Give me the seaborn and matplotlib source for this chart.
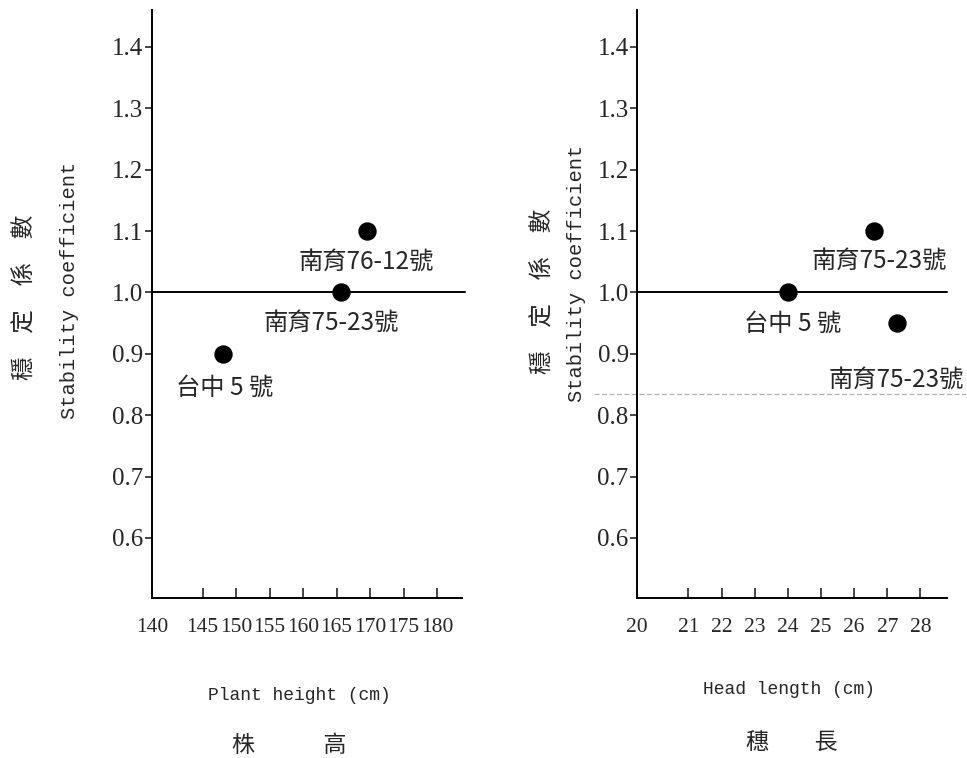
import numpy as np
import matplotlib.pyplot as plt
import seaborn as sns

# left panel: plant height
height_names = ['台中 5 號', '南育75-23號', '南育76-12號']
height_cm = [148.0, 165.6, 169.5]
height_sc = [0.90, 1.00, 1.10]
height_ticks = [137.4, 145, 150, 155, 160, 165, 170, 175, 180]
height_ticklabels = ['140', '145', '150', '155', '160', '165', '170', '175', '180']

# right panel: head length
head_names = ['南育75-23號', '台中 5 號', '南育75-23號']
head_cm = [26.6, 24.0, 27.3]
head_sc = [1.10, 1.00, 0.95]
head_ticks = [19.45, 21, 22, 23, 24, 25, 26, 27, 28]
head_ticklabels = ['20', '21', '22', '23', '24', '25', '26', '27', '28']

y_ticks = [0.6, 0.7, 0.8, 0.9, 1.0, 1.1, 1.2, 1.3, 1.4]
ref_line = 1.0
scan_line = 0.835

sns.set_style('ticks')
plt.rcParams['font.family'] = ['Liberation Serif', 'DejaVu Sans']
cjk = ['Noto Sans CJK TC', 'DejaVu Sans']
mono = ['Liberation Mono', 'DejaVu Sans Mono']

fig = plt.figure(figsize=(9.67, 7.58), dpi=100)
ax1 = fig.add_axes([0.157, 0.211, 0.3206, 0.7757])
ax2 = fig.add_axes([0.6587, 0.211, 0.3206, 0.7757])


def setup(ax, ticks, ticklabels, xlim):
    ax.set_xlim(*xlim)
    ax.set_ylim(0.502, 1.46)
    ax.set_xticks(ticks)
    ax.set_xticklabels(ticklabels, fontsize=15.5)
    ax.set_yticks(y_ticks)
    ax.set_yticklabels([f'{v:.1f}' for v in y_ticks], fontsize=18)
    ax.tick_params(axis='x', direction='in', length=7, width=1.2, pad=14)
    ax.tick_params(axis='y', direction='out', length=5, width=1.2, pad=1)
    sns.despine(ax=ax)
    for s in ['left', 'bottom']:
        ax.spines[s].set_linewidth(1.4)
        ax.spines[s].set_color('black')


setup(ax1, height_ticks, height_ticklabels, (137.4, 183.7))
setup(ax2, head_ticks, head_ticklabels, (19.45, 28.8))

sns.scatterplot(x=height_cm, y=height_sc, ax=ax1, s=150, color='black',
                edgecolor='black', zorder=3, clip_on=False)
sns.scatterplot(x=head_cm, y=head_sc, ax=ax2, s=150, color='black',
                edgecolor='black', zorder=3, clip_on=False)

ax1.axhline(ref_line, xmin=0, xmax=1.01, color='black', lw=1.4, clip_on=False)
ax2.axhline(ref_line, xmin=0, xmax=1.0, color='black', lw=1.4, clip_on=False)
ax2.axhline(scan_line, xmin=-0.14, xmax=1.06, color='#b0b0b0', lw=0.9,
            ls=(0, (4, 2)), clip_on=False)

offs1 = [(1.5, -24.5), (-7, -21.6), (-0.7, -22.3)]
for name, x, y, o in zip(height_names, height_cm, height_sc, offs1):
    ax1.annotate(name, (x, y), xytext=o, textcoords='offset points',
                 ha='center', va='center', fontsize=17.5, family=cjk)

offs2 = [(3.6, -21.6), (3.6, -22.3), (-0.7, -41)]
for name, x, y, o in zip(head_names, head_cm, head_sc, offs2):
    ax2.annotate(name, (x, y), xytext=o, textcoords='offset points',
                 ha='center', va='center', fontsize=17.5, family=cjk,
                 annotation_clip=False)

# axis titles
ax1.text(-0.265, 0.524, 'Stability coefficient', transform=ax1.transAxes,
         rotation=90, ha='center', va='center', fontsize=14.7, family=mono)
ax1.text(-0.41, 0.512, '穩\u3000定\u3000係\u3000數', transform=ax1.transAxes,
         rotation=90, ha='center', va='center', fontsize=17, family=cjk)
ax1.text(0.477, -0.165, 'Plant height (cm)', transform=ax1.transAxes,
         ha='center', va='center', fontsize=13, family=mono)
ax1.text(0.442, -0.25, '株\u3000\u3000\u3000高', transform=ax1.transAxes,
         ha='center', va='center', fontsize=16.5, family=cjk)

ax2.text(-0.194, 0.553, 'Stability coefficient', transform=ax2.transAxes,
         rotation=90, ha='center', va='center', fontsize=14.7, family=mono)
ax2.text(-0.303, 0.522, '穩\u3000定\u3000係\u3000數', transform=ax2.transAxes,
         rotation=90, ha='center', va='center', fontsize=17, family=cjk)
ax2.text(0.49, -0.156, 'Head length (cm)', transform=ax2.transAxes,
         ha='center', va='center', fontsize=13, family=mono)
ax2.text(0.5, -0.245, '穗\u3000\u3000長', transform=ax2.transAxes,
         ha='center', va='center', fontsize=16.5, family=cjk)

fig.savefig('out.png', dpi=100)
